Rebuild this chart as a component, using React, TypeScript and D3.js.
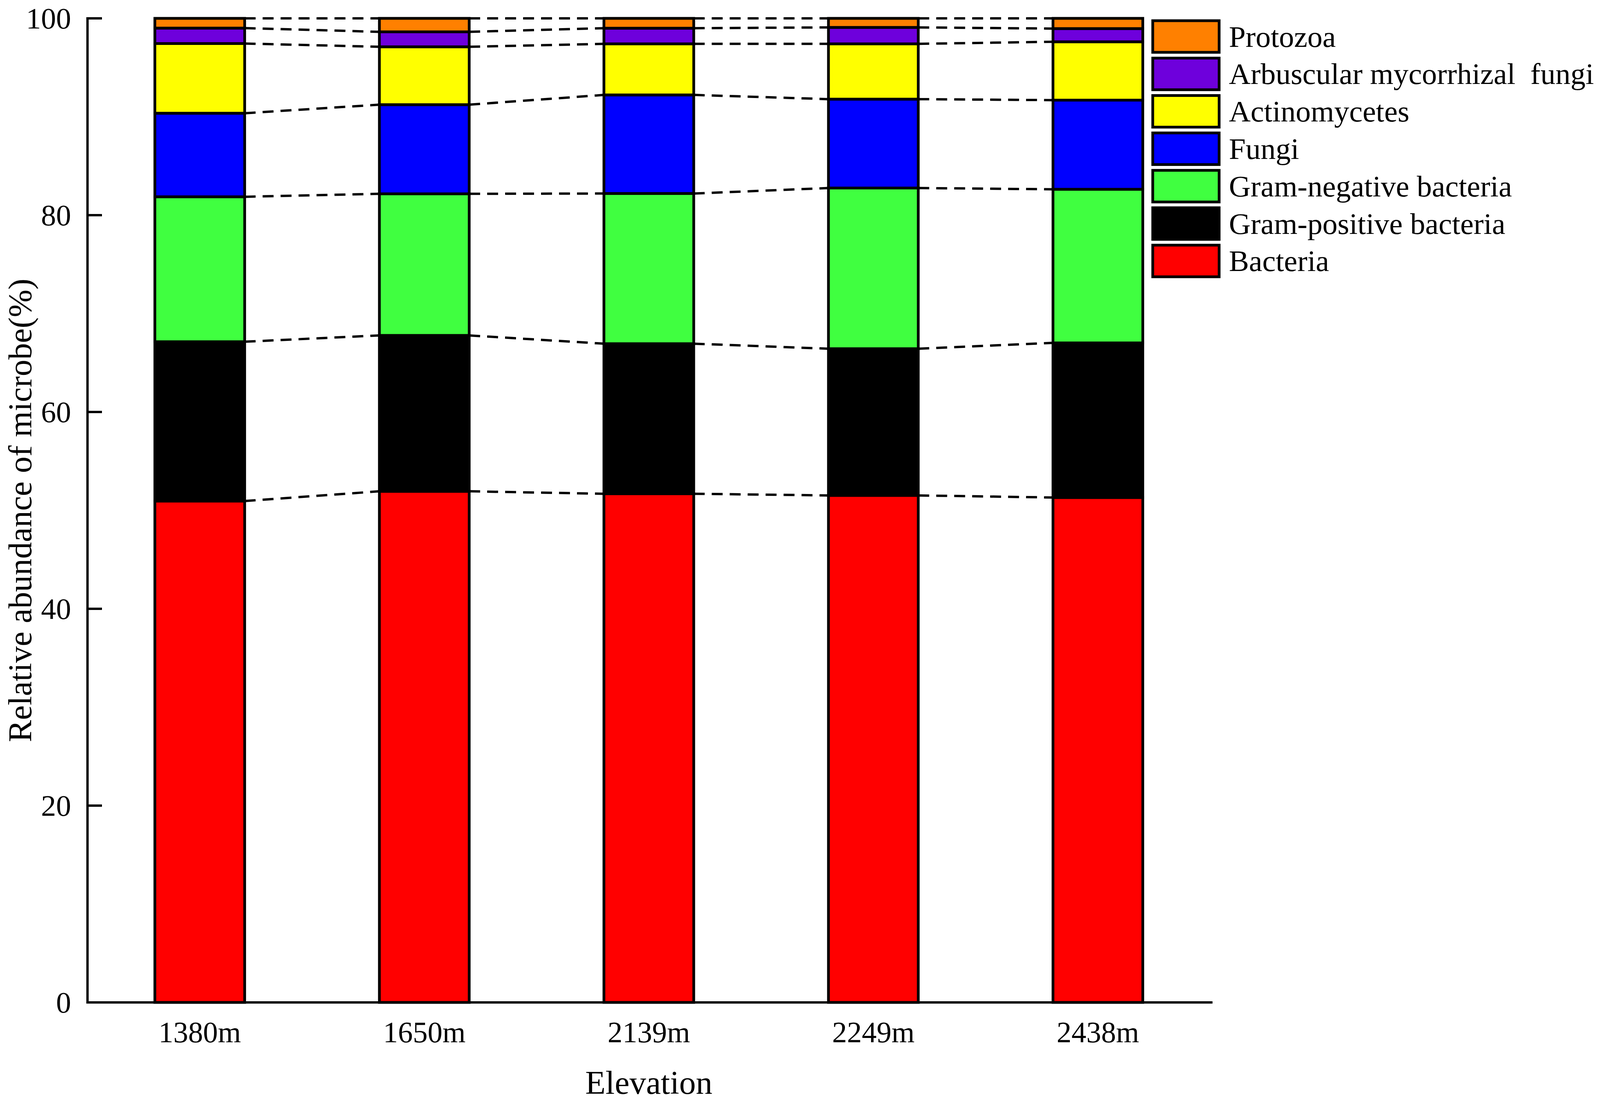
import React from "react";
import * as d3 from "d3";

const elevations = ["1380m", "1650m", "2139m", "2249m", "2438m"];
const bacteria = [50.95, 51.94, 51.69, 51.52, 51.31];
const gramPositive = [16.19, 15.84, 15.25, 14.91, 15.71];
const gramNegative = [14.73, 14.39, 15.26, 16.33, 15.61];
const fungi = [8.49, 9.06, 10.02, 9.03, 9.06];
const actinomycetes = [7.08, 5.88, 5.19, 5.62, 5.93];
const amf = [1.57, 1.52, 1.59, 1.67, 1.34];
const protozoa = [0.99, 1.37, 1.0, 0.92, 1.04];
const yTicks = [0, 20, 40, 60, 80, 100];

const seriesKeys = ["Bacteria", "Gram-positive bacteria", "Gram-negative bacteria", "Fungi", "Actinomycetes", "Arbuscular mycorrhizal  fungi", "Protozoa"];
const seriesValues = [bacteria, gramPositive, gramNegative, fungi, actinomycetes, amf, protozoa];
const seriesColors = ["#FF0000", "#000000", "#40FF40", "#0000FF", "#FFFF00", "#6E00DC", "#FF8000"];

const W = 4107;
const H = 2822;
const FONT = "'Liberation Serif', 'Times New Roman', serif";

export default function App() {
  const rows = elevations.map((e, i) => {
    const r: any = { elevation: e };
    seriesKeys.forEach((k, j) => (r[k] = seriesValues[j][i]));
    return r;
  });
  const stacked = d3.stack().keys(seriesKeys)(rows);

  const x = d3.scaleBand().domain(elevations).range([224, 3098]).paddingInner(0.6).paddingOuter(0.3);
  const y = d3.scaleLinear().domain([0, 100]).range([2567, 47]);
  const bw = x.bandwidth();

  const dashLines: any[] = [];
  stacked.forEach((s, si) => {
    for (let i = 0; i < elevations.length - 1; i++) {
      dashLines.push(
        <line
          key={`d-${si}-${i}`}
          x1={(x(elevations[i]) as number) + bw}
          y1={y(s[i][1])}
          x2={x(elevations[i + 1]) as number}
          y2={y(s[i + 1][1])}
          stroke="#000"
          strokeWidth={6}
          strokeDasharray="28,18"
        />
      );
    }
  });

  const legendKeys = seriesKeys.map((k, i) => ({ k, c: seriesColors[i] })).reverse();

  return (
    <svg width={W} height={H} style={{ position: "absolute", left: 0, top: 0, background: "#fff" }} fontFamily={FONT}>
      <rect x={0} y={0} width={W} height={H} fill="#fff" />
      {dashLines}
      {stacked.map((s, si) => (
        <g key={`s-${si}`}>
          {s.map((d, i) => (
            <rect
              key={i}
              x={x(elevations[i]) as number}
              y={y(d[1])}
              width={bw}
              height={y(d[0]) - y(d[1])}
              fill={seriesColors[si]}
              stroke="#000"
              strokeWidth={7}
            />
          ))}
        </g>
      ))}
      {/* y axis */}
      <line x1={224} y1={y(100)} x2={224} y2={y(0)} stroke="#000" strokeWidth={6} strokeLinecap="square" />
      {yTicks.map((t) => (
        <g key={`yt-${t}`}>
          <line x1={224} x2={261} y1={y(t)} y2={y(t)} stroke="#000" strokeWidth={6} />
          <text x={182} y={y(t) + 26} textAnchor="end" fontSize={77} fill="#000">
            {t}
          </text>
        </g>
      ))}
      {/* x axis */}
      <line x1={224} y1={y(0)} x2={3104} y2={y(0)} stroke="#000" strokeWidth={6} />
      {elevations.map((e) => (
        <text key={`xt-${e}`} x={(x(e) as number) + bw / 2} y={2669} textAnchor="middle" fontSize={76} fill="#000">
          {e}
        </text>
      ))}
      <text x={1661} y={2801} textAnchor="middle" fontSize={85} fill="#000">
        Elevation
      </text>
      <text transform={`translate(80,${(y(0) + y(100)) / 2}) rotate(-90)`} textAnchor="middle" fontSize={85} fill="#000">
        Relative abundance of microbe(%)
      </text>
      {/* legend */}
      {legendKeys.map((l, i) => {
        const top = 53 + i * 95.8;
        return (
          <g key={`lg-${i}`}>
            <rect x={2951} y={top} width={170} height={81} fill={l.c} stroke="#000" strokeWidth={7} />
            <text x={3146} y={top + 40.5 + 26} fontSize={77} fill="#000" xmlSpace="preserve" style={{ whiteSpace: "pre" }}>
              {l.k}
            </text>
          </g>
        );
      })}
    </svg>
  );
}
